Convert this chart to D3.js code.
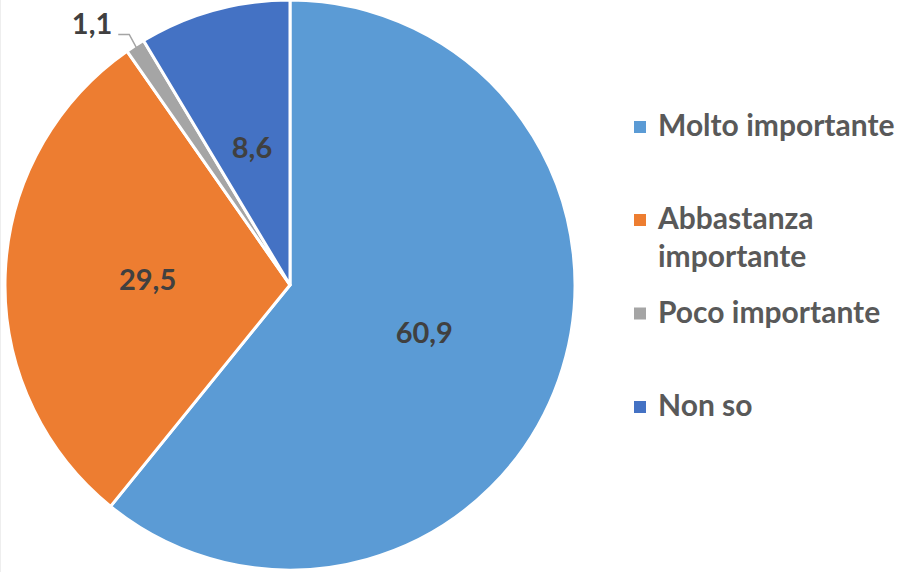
<!DOCTYPE html>
<html><head><meta charset="utf-8">
<script src="https://cdn.jsdelivr.net/npm/d3@7"></script>
<style>body{margin:0;background:#fff}svg{display:block}</style>
</head><body>
<script>
const categories = ["Molto importante", "Abbastanza importante", "Poco importante", "Non so"];
const values = [60.9, 29.5, 1.1, 8.6];
const labels = ["60,9", "29,5", "1,1", "8,6"];
const colors = ["#5B9BD5", "#ED7D31", "#A5A5A5", "#4472C4"];
const legendLines = [["Molto importante"], ["Abbastanza", "importante"], ["Poco importante"], ["Non so"]];

const W = 898, H = 572;
const svg = d3.select("body").append("svg").attr("width", W).attr("height", H);
svg.append("rect").attr("x", 0.5).attr("y", -1).attr("width", W + 2).attr("height", H + 2)
  .attr("fill", "#fff").attr("stroke", "#eeeeee");

const cx = 290, cy = 285, R = 285;
const data = categories.map((c, i) => ({ cat: c, value: values[i], label: labels[i], color: colors[i] }));
const pie = d3.pie().sort(null).value(d => d.value);
const arcs = pie(data);
const arc = d3.arc().innerRadius(0).outerRadius(R);
const g = svg.append("g").attr("transform", `translate(${cx},${cy})`);
g.selectAll("path").data(arcs).join("path")
  .attr("d", arc).attr("fill", d => d.data.color)
  .attr("stroke", "#fff").attr("stroke-width", 3).attr("stroke-linejoin", "round");

const font = "'Lato', 'Open Sans', sans-serif";
arcs.forEach((a, i) => {
  if (i === 2) {
    const mid = (a.startAngle + a.endAngle) / 2;
    const px = Math.sin(mid) * (R - 2), py = -Math.cos(mid) * (R - 2);
    const ex = px - 7, ey = py - 13;
    g.append("path").attr("d", `M${px},${py}L${ex},${ey}L${ex - 11},${ey}`)
      .attr("fill", "none").attr("stroke", "#A5A5A5").attr("stroke-width", 1.5);
    g.append("text").attr("x", ex - 17).attr("y", ey)
      .attr("text-anchor", "end").attr("font-family", font).attr("font-weight", 700)
      .attr("font-size", 29).attr("fill", "#404040").text(a.data.label);
  } else {
    const [x, y] = arc.centroid(a);
    g.append("text").attr("x", x).attr("y", y).attr("dy", "0.35em")
      .attr("text-anchor", "middle").attr("font-family", font).attr("font-weight", 700)
      .attr("font-size", 29).attr("fill", "#404040").text(a.data.label);
  }
});

const legY = [127, 220, 313.5, 407];
const leg = svg.append("g");
legendLines.forEach((lines, i) => {
  leg.append("rect").attr("x", 634).attr("y", legY[i] - 6).attr("width", 12).attr("height", 12)
    .attr("fill", colors[i]);
  lines.forEach((t, j) => {
    leg.append("text").attr("x", 658).attr("y", legY[i] + 9 + j * 38)
      .attr("font-family", font).attr("font-weight", 700).attr("font-size", 30)
      .attr("fill", "#595959").text(t);
  });
});
</script>
</body></html>
